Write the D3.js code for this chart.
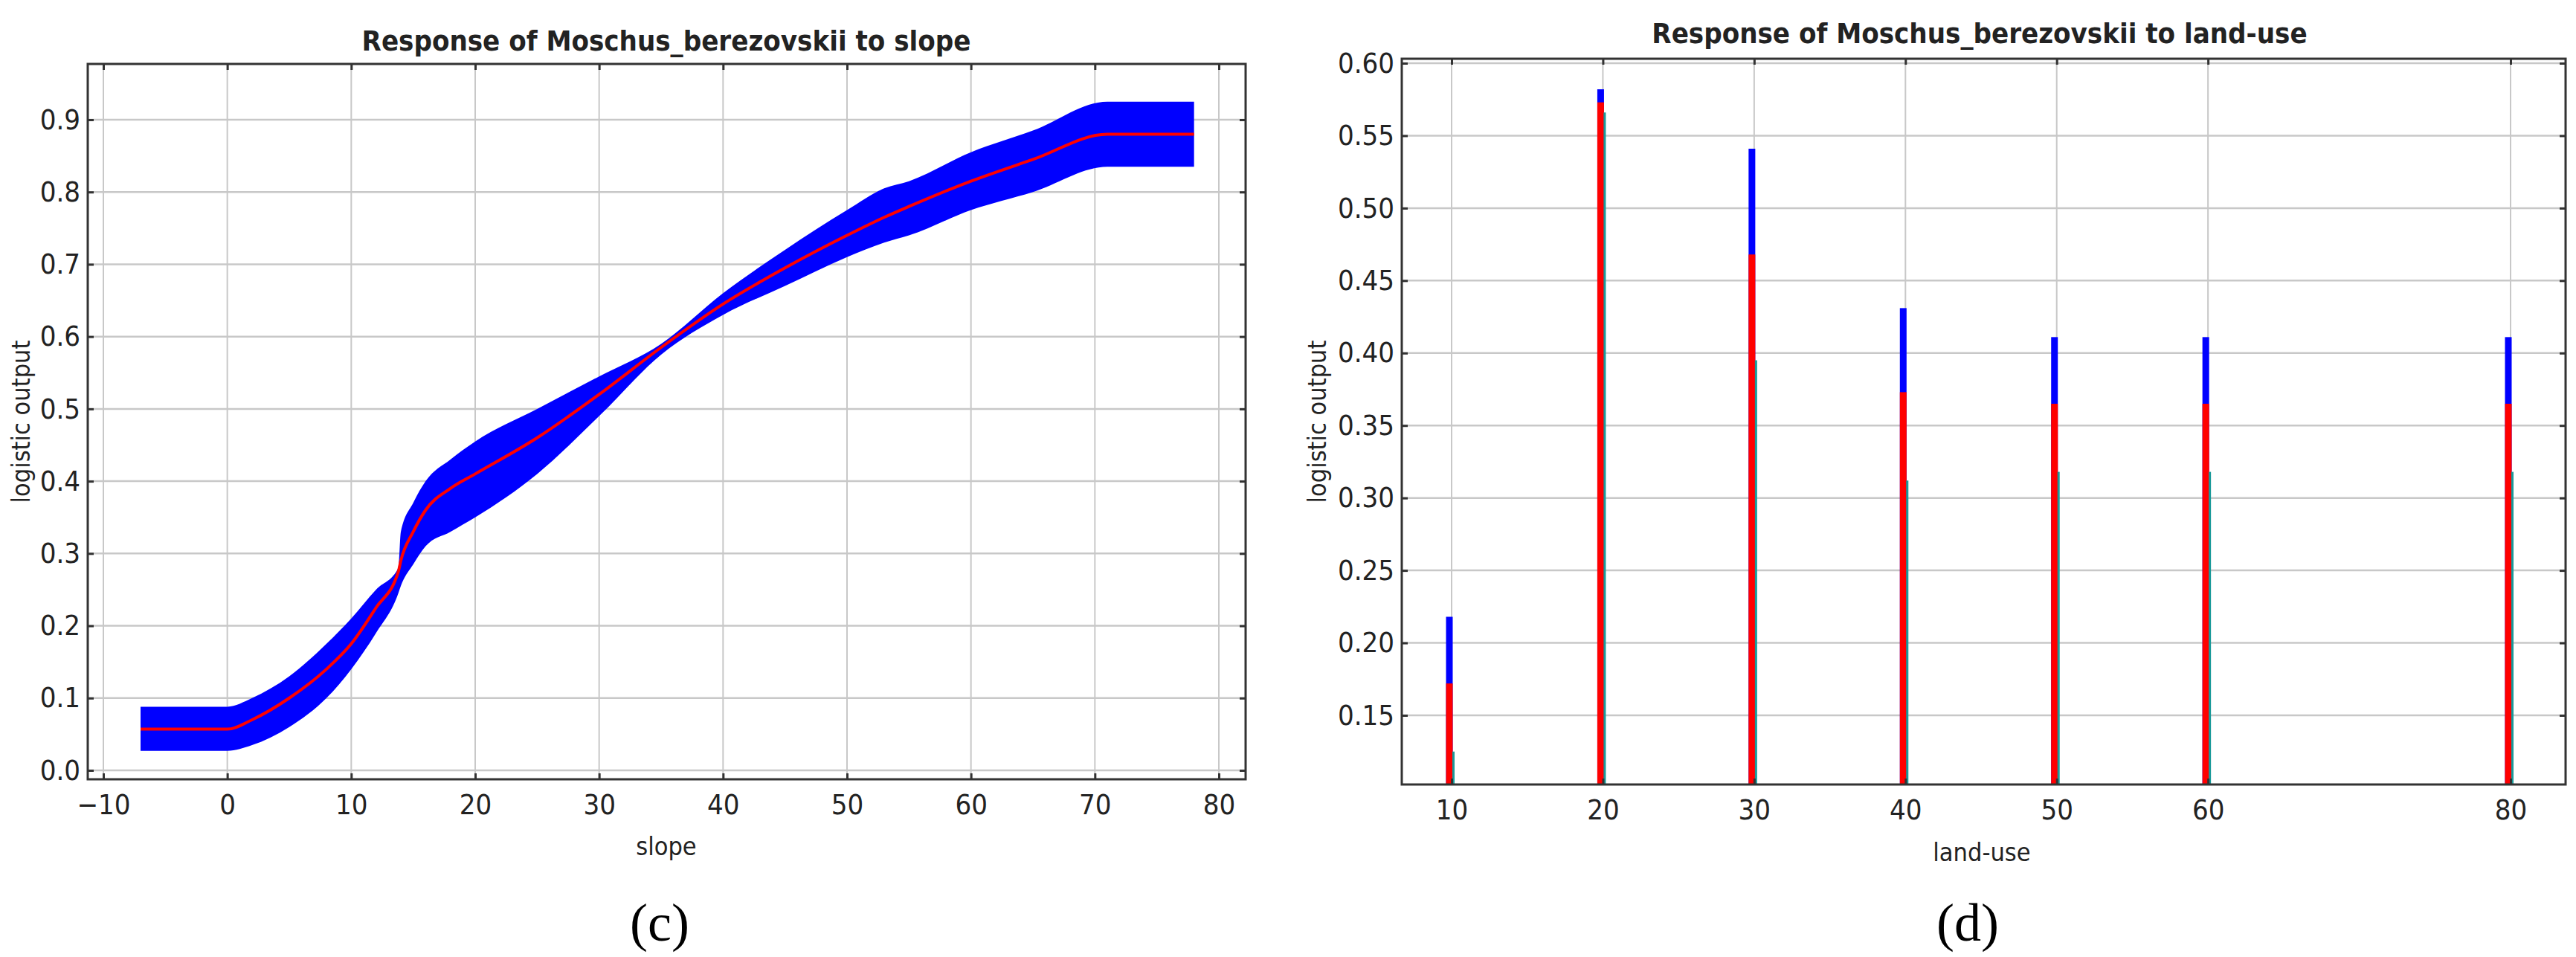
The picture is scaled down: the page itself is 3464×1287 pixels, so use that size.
<!DOCTYPE html>
<html><head><meta charset="utf-8">
<script src="https://cdn.jsdelivr.net/npm/d3@7"></script>
<style>
body{margin:0;background:#fff}
text{font-family:"Liberation Sans Narrow","DejaVu Sans Condensed","Liberation Sans",sans-serif;fill:#222}
.title{font-weight:bold;font-size:38px}
.tick text{font-size:38px}
.lab{font-size:34px}
.cap{font-family:"Liberation Serif","DejaVu Serif",serif;font-size:72px;fill:#000}
</style></head><body>
<svg id="c" width="3464" height="1287"></svg>
<script>
// slope response: mean, upper and lower of the band
var slopeX    = [-7, 0, 2, 5, 8, 10, 12, 13.8, 14, 15, 16, 18, 20, 25, 30, 35, 40, 45, 50, 53, 55, 60, 65, 71, 78];
var slopeMean = [0.057,0.057,0.07,0.10,0.14,0.175,0.225,0.275,0.29,0.33,0.36,0.39,0.41,0.46,0.52,0.585,0.645,0.695,0.74,0.765,0.78,0.815,0.845,0.88,0.88];
var slopeHigh = [0.088,0.088,0.10,0.13,0.175,0.21,0.25,0.28,0.33,0.37,0.40,0.43,0.455,0.50,0.545,0.59,0.66,0.72,0.775,0.805,0.815,0.855,0.885,0.925,0.925];
var slopeLow  = [0.027,0.027,0.035,0.06,0.10,0.14,0.19,0.245,0.255,0.285,0.31,0.33,0.35,0.41,0.49,0.575,0.63,0.67,0.71,0.73,0.74,0.775,0.80,0.835,0.835];
var slopeXTicks = [-10,0,10,20,30,40,50,60,70,80];
var slopeYTicks = [0,0.1,0.2,0.3,0.4,0.5,0.6,0.7,0.8,0.9];

// land-use response
var landCats  = [10,20,30,40,50,60,80];
var landHigh  = [0.218,0.582,0.541,0.431,0.411,0.411,0.411];
var landMean  = [0.172,0.573,0.468,0.373,0.365,0.365,0.365];
var landOther = [0.125,0.566,0.395,0.312,0.318,0.318,0.318];
var landYTicks = [0.15,0.20,0.25,0.30,0.35,0.40,0.45,0.50,0.55,0.60];

var svg = d3.select('#c');

function frame(g, x, y, xt, yt, box) {
    g.append('g').selectAll('line').data(xt).enter().append('line')
        .attr('x1', d => x(d)).attr('x2', d => x(d)).attr('y1', box.t).attr('y2', box.b)
        .attr('stroke', '#c8c8c8').attr('stroke-width', 2);
    g.append('g').selectAll('line').data(yt).enter().append('line')
        .attr('x1', box.l).attr('x2', box.r).attr('y1', d => y(d)).attr('y2', d => y(d))
        .attr('stroke', '#c8c8c8').attr('stroke-width', 2.5);
}
function axes(g, x, y, xt, yt, fmt, box) {
    g.append('g').attr('transform', 'translate(0,' + box.b + ')')
        .call(d3.axisBottom(x).tickValues(xt).tickSize(-8).tickPadding(20).tickFormat(d3.format('d')))
        .call(a => a.select('.domain').remove());
    g.append('g').attr('transform', 'translate(' + box.l + ',0)')
        .call(d3.axisLeft(y).tickValues(yt).tickSize(-8).tickPadding(10).tickFormat(d3.format(fmt)))
        .call(a => a.select('.domain').remove());
    g.append('g').attr('transform', 'translate(' + box.r + ',0)')
        .call(d3.axisRight(y).tickValues(yt).tickSize(-8).tickFormat(''))
        .call(a => a.select('.domain').remove());
    g.append('g').attr('transform', 'translate(0,' + box.t + ')')
        .call(d3.axisTop(x).tickValues(xt).tickSize(-8).tickFormat(''))
        .call(a => a.select('.domain').remove());
    g.selectAll('.tick line').attr('stroke', '#333').attr('stroke-width', 3);
    g.append('rect').attr('x', box.l).attr('y', box.t).attr('width', box.r - box.l).attr('height', box.b - box.t)
        .attr('fill', 'none').attr('stroke', '#333').attr('stroke-width', 3);
}

// chart (c)
var b1 = {l: 118, r: 1675, t: 86, b: 1048};
var x1 = d3.scaleLinear().domain([-10, 80]).range([139, 1639]);
var y1 = d3.scaleLinear().domain([0, 0.9]).range([1036, 161]);
var g1 = svg.append('g');
frame(g1, x1, y1, slopeXTicks, slopeYTicks, b1);
var pts = slopeX.map((d, i) => ({x: d, m: slopeMean[i], h: slopeHigh[i], l: slopeLow[i]}));
g1.append('path').datum(pts).attr('fill', '#0000ff')
    .attr('d', d3.area().curve(d3.curveMonotoneX).x(d => x1(d.x)).y0(d => y1(d.l)).y1(d => y1(d.h)));
g1.append('path').datum(pts).attr('fill', 'none').attr('stroke', '#ff0000').attr('stroke-width', 4)
    .attr('d', d3.line().curve(d3.curveMonotoneX).x(d => x1(d.x)).y(d => y1(d.m)));
axes(g1, x1, y1, slopeXTicks, slopeYTicks, '.1f', b1);
g1.append('text').attr('class', 'title').attr('x', 896).attr('y', 68).attr('text-anchor', 'middle')
    .text('Response of Moschus_berezovskii to slope');
g1.append('text').attr('class', 'lab').attr('x', 896).attr('y', 1150).attr('text-anchor', 'middle').text('slope');
g1.append('text').attr('class', 'lab').attr('transform', 'translate(40,' + (b1.t + b1.b) / 2 + ') rotate(-90)')
    .attr('text-anchor', 'middle').text('logistic output');
svg.append('text').attr('class', 'cap').attr('x', 887).attr('y', 1265).attr('text-anchor', 'middle').text('(c)');

// chart (d)
var b2 = {l: 1885, r: 3450, t: 79, b: 1055};
var x2 = d3.scaleLinear().domain([10, 80]).range([1952, 3376]);
var y2 = d3.scaleLinear().domain([0.6, 0.15]).range([85, 962]);
var g2 = svg.append('g');
frame(g2, x2, y2, landCats, landYTicks, b2);
var bars = landCats.map((d, i) => ({c: d, h: landHigh[i], m: landMean[i], o: landOther[i]}));
var bw = 9;
g2.selectAll('.hi').data(bars).enter().append('rect')
    .attr('x', d => x2(d.c) - bw / 2 - 3).attr('width', bw)
    .attr('y', d => y2(d.h)).attr('height', d => b2.b - y2(d.h)).attr('fill', '#0000ff');
g2.selectAll('.me').data(bars).enter().append('rect')
    .attr('x', d => x2(d.c) - bw / 2 - 3).attr('width', bw)
    .attr('y', d => y2(d.m)).attr('height', d => b2.b - y2(d.m)).attr('fill', '#ff0000');
g2.selectAll('.ot').data(bars).enter().append('rect')
    .attr('x', d => x2(d.c) + 1).attr('width', 3)
    .attr('y', d => y2(d.o)).attr('height', d => b2.b - y2(d.o)).attr('fill', '#1a9a9a');
axes(g2, x2, y2, landCats, landYTicks, '.2f', b2);
g2.append('text').attr('class', 'title').attr('x', 2662).attr('y', 58).attr('text-anchor', 'middle')
    .text('Response of Moschus_berezovskii to land-use');
g2.append('text').attr('class', 'lab').attr('x', 2665).attr('y', 1158).attr('text-anchor', 'middle').text('land-use');
g2.append('text').attr('class', 'lab').attr('transform', 'translate(1783,' + (b2.t + b2.b) / 2 + ') rotate(-90)')
    .attr('text-anchor', 'middle').text('logistic output');
svg.append('text').attr('class', 'cap').attr('x', 2646).attr('y', 1265).attr('text-anchor', 'middle').text('(d)');
</script>
</body></html>
